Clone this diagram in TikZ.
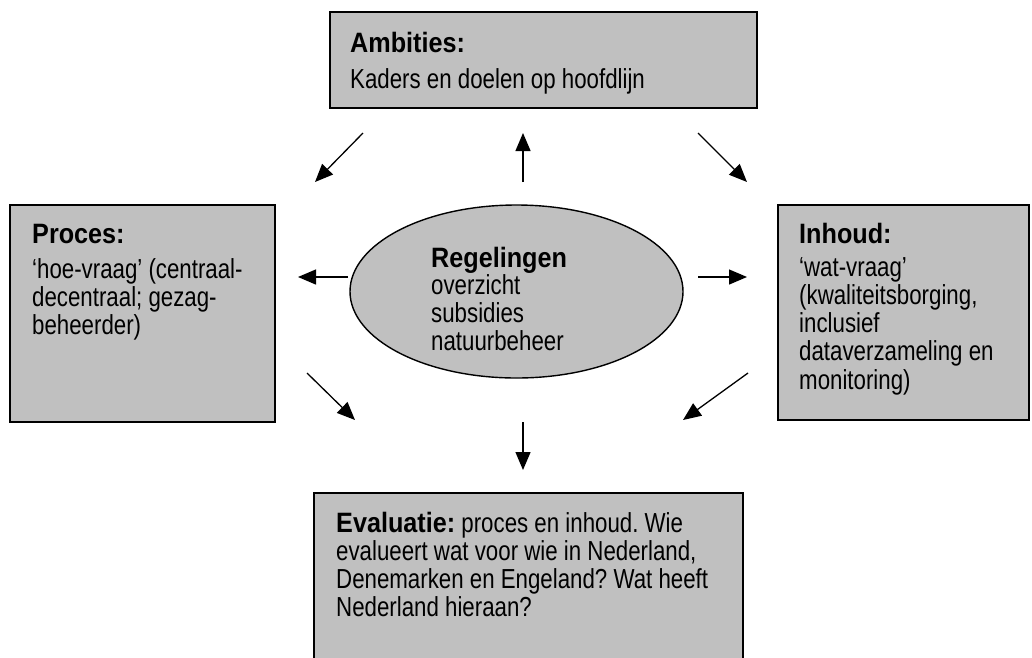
\documentclass[tikz,border=0pt]{standalone}
\usepackage{fontspec}
\setmainfont{Liberation Sans}[FakeStretch=0.81]
\newfontfamily\headfont{Liberation Sans}[FakeStretch=0.9]
\usetikzlibrary{arrows.meta,shapes.geometric}
\definecolor{panelgray}{RGB}{192,192,192}
\frenchspacing
\begin{document}
\begin{tikzpicture}[x=1pt,y=-1pt,
  panel/.style={draw=black, line width=1.8pt, fill=panelgray, rectangle, inner sep=0pt},
  hub/.style={draw=black, line width=1.4pt, fill=panelgray, ellipse, inner sep=0pt},
  flow/.style={line width=1.3pt, -{Triangle[length=18pt,width=15pt]}},
  head/.style={anchor=base west, inner sep=0pt, font=\fontsize{28}{31}\headfont\bfseries},
  body/.style={anchor=base west, inner sep=0pt, font=\fontsize{27.5}{28.3}\selectfont}
]
\useasboundingbox (0,0) rectangle (1032,657);

% panels
\node[panel, minimum width=427pt, minimum height=96pt]  (amb) at (543.5,60) {};
\node[panel, minimum width=265pt, minimum height=217pt] (pro) at (142.5,313.5) {};
\node[panel, minimum width=251pt, minimum height=215pt] (inh) at (903.5,312.5) {};
\node[panel, minimum width=429pt, minimum height=180pt] (eva) at (528.5,583) {};
\node[hub, minimum width=333pt, minimum height=173pt]   (reg) at (516.5,291.5) {};

% texts
\node[head] (ambH) at (350,52) {Ambities:};
\node[body] (ambT) at (350,88) {Kaders en doelen op hoofdlijn};

\node[head] (proH) at (32,243) {Proces:};
\node[body] (proT) at (32,278) {\parbox[t]{240pt}{\baselineskip=28.3pt
  ‘hoe-vraag’ (centraal-\\decentraal; gezag-\\beheerder)}};

\node[head] (inhH) at (799,243) {Inhoud:};
\node[body] (inhT) at (799,276) {\parbox[t]{225pt}{\baselineskip=28.3pt
  ‘wat-vraag’\\(kwaliteitsborging,\\inclusief\\dataverzameling en\\monitoring)}};

\node[head] (regH) at (431,267) {Regelingen};
\node[body] (regT) at (431,294) {\parbox[t]{200pt}{\baselineskip=28.3pt
  overzicht\\subsidies\\natuurbeheer}};

\node[body] (evaT) at (336,532) {\parbox[t]{400pt}{\baselineskip=28.3pt
  {\fontsize{28}{28.3}\headfont\bfseries Evaluatie:} proces en inhoud. Wie\\
  evalueert wat voor wie in Nederland,\\
  Denemarken en Engeland? Wat heeft\\
  Nederland hieraan?}};

% arrow end points
\coordinate (a1s) at (363,133); \coordinate (a1e) at (315,182);
\coordinate (a2s) at (523,182); \coordinate (a2e) at (523,133);
\coordinate (a3s) at (698,133); \coordinate (a3e) at (747,182);
\coordinate (a4s) at (348,277); \coordinate (a4e) at (298,277);
\coordinate (a5s) at (698,277); \coordinate (a5e) at (747,277);
\coordinate (a6s) at (307,373); \coordinate (a6e) at (355,420);
\coordinate (a7s) at (748,373); \coordinate (a7e) at (683,420);
\coordinate (a8s) at (523,422); \coordinate (a8e) at (523,470);

\foreach \i in {1,...,8} \draw[flow] (a\i s) -- (a\i e);
\end{tikzpicture}
\end{document}
